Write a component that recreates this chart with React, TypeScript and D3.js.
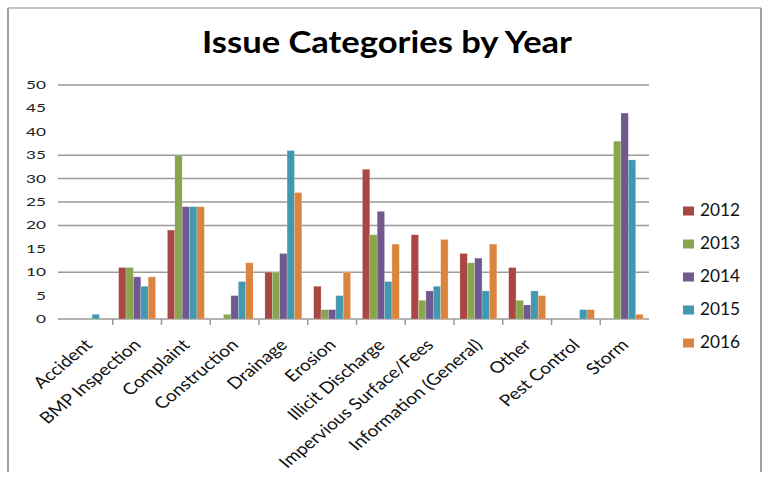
import React from "react";
import * as d3 from "d3";

const categories = [
  "Accident",
  "BMP Inspection",
  "Complaint",
  "Construction",
  "Drainage",
  "Erosion",
  "Illicit Discharge",
  "Impervious Surface/Fees",
  "Information (General)",
  "Other",
  "Pest Control",
  "Storm",
];
const years = ["2012", "2013", "2014", "2015", "2016"];
const values2012 = [0, 11, 19, 0, 10, 7, 32, 18, 14, 11, 0, 0];
const values2013 = [0, 11, 35, 1, 10, 2, 18, 4, 12, 4, 0, 38];
const values2014 = [0, 9, 24, 5, 14, 2, 23, 6, 13, 3, 0, 44];
const values2015 = [1, 7, 24, 8, 36, 5, 8, 7, 6, 6, 2, 34];
const values2016 = [0, 9, 24, 12, 27, 10, 16, 17, 16, 5, 2, 1];
const yTicks = [0, 5, 10, 15, 20, 25, 30, 35, 40, 45, 50];
const gridValues = [0, 10, 20, 25, 30, 35, 50];
const colors = ["#AA4643", "#89A54E", "#71588F", "#4198AF", "#DB843D"];
const title = "Issue Categories by Year";

const seriesValues = [values2012, values2013, values2014, values2015, values2016];

export default function App() {
  const W = 768;
  const H = 485;
  const plotLeft = 64;
  const plotRight = 649;
  const gridLeft = 58;
  const y0 = 319;
  const y50 = 85;

  const x = d3.scaleBand<string>().domain(categories).range([plotLeft, plotRight]).padding(0);
  const xs = d3
    .scaleBand<string>()
    .domain(years)
    .range([0, x.bandwidth()])
    .paddingInner(0)
    .paddingOuter(0.8);
  const y = d3.scaleLinear().domain([0, 50]).range([y0, y50]);

  const font = "Lato, 'Open Sans', sans-serif";

  return (
    <svg
      width={W}
      height={H}
      style={{ position: "absolute", left: 0, top: 0, background: "#fff" }}
      fontFamily={font}
    >
      <line x1={8} y1={8} x2={761} y2={8} stroke="#b0b0b0" strokeWidth={1.5} />
      <line x1={8} y1={8} x2={8} y2={472} stroke="#a0a0a0" strokeWidth={2} />
      <line x1={761} y1={8} x2={761} y2={472} stroke="#a0a0a0" strokeWidth={2} />

      <text
        x={387}
        y={53}
        textAnchor="middle"
        fontSize={30}
        fontWeight="bold"
        fill="#000"
        textLength={370}
        lengthAdjust="spacingAndGlyphs"
      >
        {title}
      </text>

      {gridValues.map((v) => (
        <line
          key={"g" + v}
          x1={gridLeft}
          x2={plotRight}
          y1={y(v)}
          y2={y(v)}
          stroke="#9a9a9a"
          strokeWidth={1.5}
        />
      ))}

      {yTicks.map((v) => (
        <text
          key={"yt" + v}
          x={46}
          y={y(v) + 4}
          textAnchor="end"
          fontSize={11}
          fill="#222"
          textLength={String(v).length * 10}
          lengthAdjust="spacingAndGlyphs"
        >
          {v}
        </text>
      ))}

      {categories.map((c, ci) => (
        <g key={"c" + ci} transform={`translate(${x(c)},0)`}>
          {years.map((yr, si) => {
            const v = seriesValues[si][ci];
            if (!v) return null;
            return (
              <rect
                key={yr}
                x={xs(yr)}
                y={y(v)}
                width={xs.bandwidth()}
                height={y0 - y(v)}
                fill={colors[si]}
                stroke="#ffffff"
                strokeOpacity={0.35}
                strokeWidth={0.6}
              />
            );
          })}
        </g>
      ))}

      {categories.slice(1).map((c) => (
        <line
          key={"t" + c}
          x1={x(c)}
          x2={x(c)}
          y1={y0}
          y2={y0 + 6}
          stroke="#9a9a9a"
          strokeWidth={1.5}
        />
      ))}

      {categories.map((c) => {
        const cx = (x(c) as number) + x.bandwidth() / 2;
        return (
          <text
            key={"xl" + c}
            transform={`translate(${cx + 5},346) scale(1.2,1) rotate(-45)`}
            textAnchor="end"
            fontSize={16}
            fill="#111"
          >
            {c}
          </text>
        );
      })}

      {years.map((yr, i) => {
        const cy = 211 + i * 33;
        return (
          <g key={"lg" + yr}>
            <rect x={683} y={cy - 4.5} width={11} height={9} fill={colors[i]} />
            <text
              x={700}
              y={cy + 5}
              fontSize={16.5}
              fill="#111"
              textLength={40}
              lengthAdjust="spacingAndGlyphs"
            >
              {yr}
            </text>
          </g>
        );
      })}
    </svg>
  );
}
